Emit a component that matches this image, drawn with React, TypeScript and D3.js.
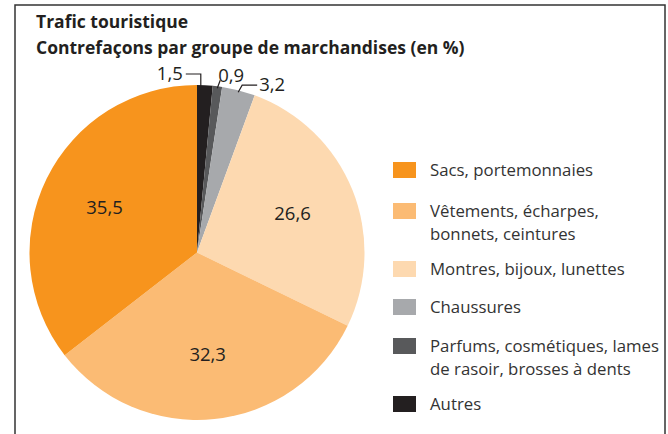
import React from 'react';
import * as d3 from 'd3';

// slices in drawing order, clockwise from 12 o'clock
const categories = [
  'Autres',
  'Parfums, cosmétiques, lames de rasoir, brosses à dents',
  'Chaussures',
  'Montres, bijoux, lunettes',
  'Vêtements, écharpes, bonnets, ceintures',
  'Sacs, portemonnaies',
];
const values = [1.5, 0.9, 3.2, 26.6, 32.3, 35.5];
const valueLabels = ['1,5', '0,9', '3,2', '26,6', '32,3', '35,5'];
const colors = ['#231f20', '#58595b', '#a7a9ac', '#fdd9b0', '#fbbb74', '#f7941d'];

// legend order (top to bottom) and wrapped lines
const legendOrder = [5, 4, 3, 2, 1, 0];
const legendLines = [
  ['Autres'],
  ['Parfums, cosmétiques, lames', 'de rasoir, brosses à dents'],
  ['Chaussures'],
  ['Montres, bijoux, lunettes'],
  ['Vêtements, écharpes,', 'bonnets, ceintures'],
  ['Sacs, portemonnaies'],
];

const W = 668;
const H = 434;
const FONT = "'Open Sans', 'Noto Sans', sans-serif";

export default function App() {
  const cx = 197;
  const cy = 252.5;
  const r = 167.5;

  const pie = d3.pie<number>().sort(null).value((d) => d);
  const arcs = pie(values);
  const arc = d3.arc<d3.PieArcDatum<number>>().innerRadius(0).outerRadius(r);
  const labelArc = d3.arc<d3.PieArcDatum<number>>().innerRadius(103).outerRadius(103);
  const edgeArc = d3.arc<d3.PieArcDatum<number>>().innerRadius(r - 2).outerRadius(r - 2);

  // leader lines for the three small slices (pie-local coordinates)
  const small = arcs.slice(0, 3).map((a, i) => {
    const [ex, ey] = edgeArc.centroid(a);
    if (i === 0) {
      const x0 = ex - 4;
      const topY = -r - 11;
      return {
        path: `M${x0},${-r + 1}V${topY}H${x0 - 15}`,
        tx: x0 - 18,
        ty: topY + 6,
        anchor: 'end',
      };
    }
    if (i === 1) {
      return {
        path: `M${ex},${ey}L${ex + 3},${ey - 8}`,
        tx: ex + 1,
        ty: ey - 6,
        anchor: 'start',
      };
    }
    return {
      path: `M${ex},${ey}L${ex + 4},${ey - 7}H${ex + 19}`,
      tx: ex + 21,
      ty: ey - 1,
      anchor: 'start',
    };
  });

  const legendY = d3
    .scaleOrdinal<number, number>()
    .domain(legendOrder)
    .range([162, 203, 261, 299, 338, 396]);
  const lineH = 23;

  return (
    <svg
      width={W}
      height={H}
      style={{ position: 'absolute', left: 0, top: 0, background: '#fff' }}
      fontFamily={FONT}
    >
      <rect x={15} y={5} width={650} height={H + 10} fill="none" stroke="#333" strokeWidth={1.5} />
      <text x={36} y={28} fontSize={17.5} fontWeight="bold" fill="#231f20">
        Trafic touristique
      </text>
      <text x={36} y={54} fontSize={17.5} fontWeight="bold" fill="#231f20">
        Contrefaçons par groupe de marchandises (en %)
      </text>

      <g transform={`translate(${cx},${cy})`}>
        {arcs.map((a, i) => (
          <path key={i} d={arc(a) || ''} fill={colors[i]} />
        ))}
        {arcs.slice(3).map((a, j) => {
          const [lx, ly] = labelArc.centroid(a);
          return (
            <text
              key={j}
              x={lx}
              y={ly}
              dy="0.35em"
              textAnchor="middle"
              fontSize={18.5}
              fill="#231f20"
            >
              {valueLabels[j + 3]}
            </text>
          );
        })}
        {small.map((s, i) => (
          <g key={'s' + i}>
            <path d={s.path} fill="none" stroke="#231f20" strokeWidth={1.2} />
            <text
              x={s.tx}
              y={s.ty}
              textAnchor={s.anchor as any}
              fontSize={18.5}
              fill="#231f20"
            >
              {valueLabels[i]}
            </text>
          </g>
        ))}
      </g>

      <g>
        {legendOrder.map((k) => {
          const y = legendY(k);
          return (
            <g key={categories[k]}>
              <rect x={393} y={y} width={23} height={16} fill={colors[k]} />
              {legendLines[k].map((ln, li) => (
                <text
                  key={li}
                  x={430}
                  y={y + 8 + li * lineH}
                  dy="0.35em"
                  fontSize={16.8}
                  fill="#333"
                >
                  {ln}
                </text>
              ))}
            </g>
          );
        })}
      </g>
    </svg>
  );
}
